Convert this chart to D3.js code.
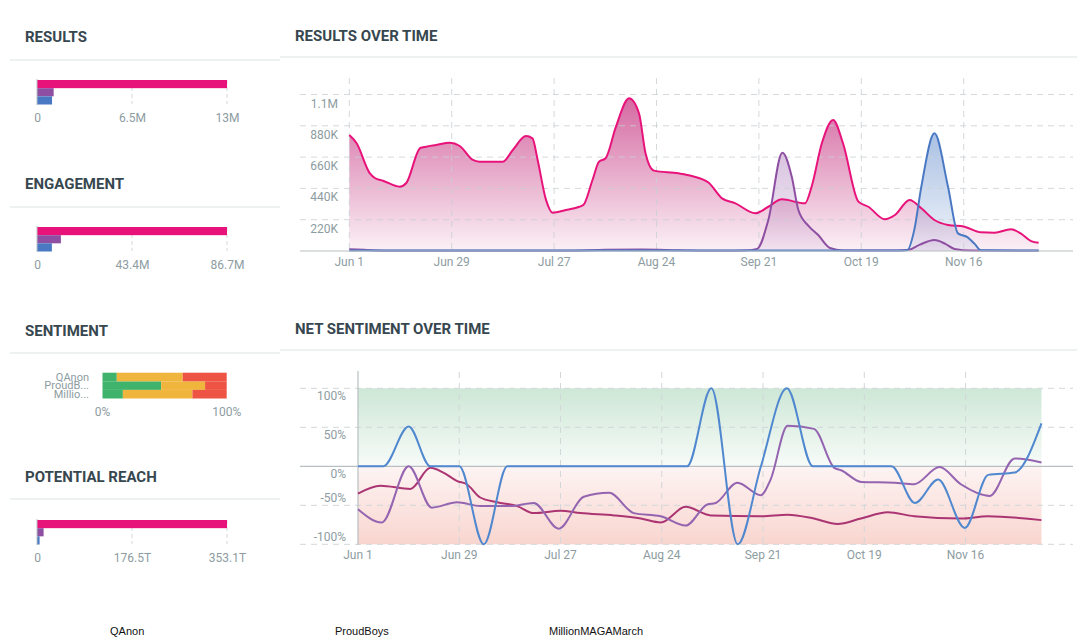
<!DOCTYPE html>
<html>
<head>
<meta charset="utf-8">
<script src="https://cdn.jsdelivr.net/npm/d3@7"></script>
<style>
  body { margin: 0; background: #fff; }
  svg { display: block; font-family: Roboto, "Noto Sans", sans-serif; }
  .title { font-weight: 700; font-size: 15px; fill: #37474f; }
  .tick-label { font-size: 12px; fill: #8d9ca1; }
  .row-label { font-size: 11px; fill: #8d9ca1; }
  .legend { font-family: "Liberation Sans", Arial, sans-serif; font-size: 11px; fill: #111; }
</style>
</head>
<body>
<svg id="chart" width="1077" height="641"></svg>
<script>
// groups
const groups = ["QAnon", "ProudBoys", "MillionMAGAMarch"];
const groupShort = ["QAnon", "ProudB...", "Millio..."];
const groupColors = ["#e8137a", "#8e4fa3", "#4a79c3"];
const areaColors = ["#cc4b8f", "#8e4fa3", "#4a79c3"];

// left panel totals
const resultsTotals = [13.0e6, 1.14e6, 1.03e6];
const resultsTicks = [0, 6.5e6, 13e6];
const resultsTickLabels = ["0", "6.5M", "13M"];

const engagementTotals = [86.7e6, 10.9e6, 6.8e6];
const engagementTicks = [0, 43.35e6, 86.7e6];
const engagementTickLabels = ["0", "43.4M", "86.7M"];

const reachTotals = [353.1e12, 12.3e12, 4.8e12];
const reachTicks = [0, 176.55e12, 353.1e12];
const reachTickLabels = ["0", "176.5T", "353.1T"];

// sentiment shares (%): positive, neutral, negative
const sentimentPositive = [11.5, 47.2, 16.4];
const sentimentNeutral = [53.1, 35.4, 56.0];
const sentimentNegative = [35.4, 17.4, 27.6];
const sentimentColors = ["#3fb36c", "#f0b53d", "#ee5443"];

// time axis (day offsets from Jun 1 2020)
const tickDates = ["2020-06-01", "2020-06-29", "2020-07-27", "2020-08-24", "2020-09-21", "2020-10-19", "2020-11-16"];
const lastDay = 189;

// results over time, [day, thousands]
const qanonResults = [[0,815],[2,757],[5.6,548],[7,513],[9.2,494],[13.8,452],[15.6,478],[19.4,724],[21,733],[23.8,745],
  [27.4,761],[30.2,738],[33.8,640],[35.6,628],[42,628],[44.7,710],[48.3,808],[50.1,792],[51.5,640],[53.8,359],
  [55.6,269],[59.2,288],[62.9,311],[64,323],[66.5,499],[68.3,628],[70.1,652],[72.9,874],[76.5,1073],[79.2,968],
  [81,687],[83.3,565],[90,546],[93.7,527],[98.3,480],[101.9,370],[105.6,335],[111,265],[114.6,311],[118.3,363],
  [124.6,335],[126.4,452],[129.2,757],[132.3,921],[135,757],[139.2,347],[141.9,311],[146.4,223],[149.2,253],[153.2,359],
  [156.4,300],[160,218],[163.7,183],[168.2,171],[172.7,131],[176.4,129],[180.9,153],[183.6,124],[186.4,70],[188.5,58]];
const proudResults = [[0,12],[4,8],[10,2],[20,1],[40,1],[60,2],[70,8],[80,10],[90,6],[100,2],[108,3],[111.5,15],
  [114.6,218],[118.4,691],[121,520],[122.8,288],[125.5,178],[128.2,112],[131.4,21],[135,4],[150,3],[153,8],
  [156,45],[160,77],[163,50],[165.5,14],[170,3],[188.5,2]];
const millionResults = [[0,3],[150,3],[152.6,6],[154.5,150],[156.4,452],[160,827],[163.7,452],[166.4,124],
  [169.1,96],[171,50],[172.7,5],[188.5,3]];

// net sentiment over time, [day, percent]
const qanonSentiment = [[0,-35],[6.2,-25],[14.5,-29],[20,-2],[23.6,-8],[27.4,-19],[30.1,-23],[33.8,-40],[38.4,-46],
  [44,-51],[48.6,-60],[56,-57],[61.5,-60],[70.8,-63],[78.2,-67],[83.7,-72],[90.6,-52],[97.6,-63],[111.4,-64],
  [118.8,-62],[126.1,-67],[132.6,-74],[139.1,-67],[146.5,-59],[153.8,-64],[166.7,-67],[174.1,-64],[189,-69]];
const proudSentiment = [[0,-55],[6.6,-72],[14,0],[20.4,-53],[27.4,-46],[33.8,-51],[42.2,-51],[48.6,-47],[55.5,-80],
  [62.4,-39],[69.4,-34],[76.3,-60],[83.7,-64],[90.6,-76],[96.6,-49],[98.9,-47],[104.9,-21],[111.4,-37],[114.1,-17],
  [118.8,52],[126.1,48],[131.7,-2],[133.6,-5],[139.1,-20],[148.3,-21],[153.8,-23],[160.8,-1],[166.7,-23],
  [174.7,-38],[181.6,10],[189,5]];
const millionSentiment = [[0,0],[7,0],[14,51],[20,0],[28,0],[34.8,-100],[41.3,0],[91,0],[97.7,100],[105,-100],
  [111.4,0],[118.6,100],[125.8,0],[147.5,0],[154,-47],[160.4,-17],[167.8,-79],[174.3,-11],[181.6,-8],[189,55]];

const sentimentLineColors = ["#ab3573", "#9464b0", "#5088cf"];

const svg = d3.select("#chart");
const start = d3.timeParse("%Y-%m-%d")(tickDates[0]);
const toDate = d => d3.timeHour.offset(start, Math.round(d * 24));
const ticks = tickDates.map(d3.timeParse("%Y-%m-%d"));
const fmtDate = d3.timeFormat("%b %-d");

// --- section titles and separators
function section(x, y, w, label, gap) {
  svg.append("text").attr("class", "title").attr("x", x + 15).attr("y", y).text(label);
  svg.append("line").attr("x1", x).attr("x2", x + w)
    .attr("y1", y + gap).attr("y2", y + gap)
    .attr("stroke", "#e7ecec").attr("stroke-width", 1.5);
}
section(10, 42, 270, "RESULTS", 18);
section(10, 189, 270, "ENGAGEMENT", 18);
section(10, 336, 270, "SENTIMENT", 17);
section(10, 482, 270, "POTENTIAL REACH", 17);
section(280, 41, 797, "RESULTS OVER TIME", 16);
section(280, 334, 797, "NET SENTIMENT OVER TIME", 16);

// --- small horizontal bar charts
function totalsChart(top, values, tickVals, tickLabels) {
  const x = d3.scaleLinear().domain([0, tickVals[2]]).range([37, 227]);
  const y = d3.scaleBand().domain(groups).range([top, top + 24.5]);
  const g = svg.append("g");
  g.selectAll(".grid").data(tickVals.slice(1)).enter().append("line")
    .attr("x1", d => x(d)).attr("x2", d => x(d))
    .attr("y1", top).attr("y2", top + 24)
    .attr("stroke", "#d3d8da").attr("stroke-dasharray", "4,3");
  g.selectAll("rect").data(values).enter().append("rect")
    .attr("x", x(0)).attr("y", (d, i) => y(groups[i]))
    .attr("width", d => Math.max(1, x(d) - x(0)))
    .attr("height", y.bandwidth())
    .attr("fill", (d, i) => groupColors[i]);
  g.append("line").attr("x1", x(0)).attr("x2", x(0))
    .attr("y1", top - 1).attr("y2", top + 25)
    .attr("stroke", "#b9c2c5");
  const axis = g.append("g").attr("transform", `translate(0,${top + 28})`)
    .call(d3.axisBottom(x).tickValues(tickVals).tickFormat((d, i) => tickLabels[i]).tickSize(0));
  axis.select(".domain").remove();
  axis.selectAll("text").attr("class", "tick-label").attr("dy", "0.9em")
    .style("font-family", "Roboto, sans-serif").style("font-size", "12px");
}
totalsChart(80, resultsTotals, resultsTicks, resultsTickLabels);
totalsChart(227, engagementTotals, engagementTicks, engagementTickLabels);
totalsChart(520, reachTotals, reachTicks, reachTickLabels);

// --- sentiment stacked bars
(function () {
  const x = d3.scaleLinear().domain([0, 100]).range([102.5, 226.7]);
  const y = d3.scaleBand().domain(groups).range([372.7, 398.5]);
  const rows = groups.map((g, i) => ({ name: g, pos: sentimentPositive[i], neu: sentimentNeutral[i], neg: sentimentNegative[i] }));
  const stack = d3.stack().keys(["pos", "neu", "neg"])(rows);
  const g = svg.append("g");
  g.selectAll("g.layer").data(stack).enter().append("g")
    .attr("fill", (d, i) => sentimentColors[i])
    .selectAll("rect").data(d => d).enter().append("rect")
    .attr("x", d => x(d[0])).attr("width", d => x(d[1]) - x(d[0]))
    .attr("y", d => y(d.data.name)).attr("height", y.bandwidth());
  // the row labels are taller than the rows, so they crowd each other (as in the dashboard)
  g.selectAll("text.row").data(groupShort).enter().append("text")
    .attr("class", "row-label").attr("text-anchor", "end")
    .attr("x", 89).attr("y", (d, i) => y(groups[i]) + y.bandwidth() / 2 + 3.5)
    .text(d => d);
  g.selectAll("text.pct").data([0, 100]).enter().append("text")
    .attr("class", "tick-label").attr("text-anchor", "middle")
    .attr("x", d => x(d)).attr("y", 415.5).text(d => d + "%");
})();

// --- results over time
(function () {
  const x = d3.scaleTime().domain([start, toDate(lastDay)]).range([349.3, 1040.5]);
  const y = d3.scaleLinear().domain([0, 1.1e6]).range([251, 94.5]);
  const defs = svg.append("defs");
  const areas = svg.append("g");
  const grid = svg.append("g");
  const lines = svg.append("g");
  const yTicks = [220e3, 440e3, 660e3, 880e3, 1.1e6];
  const fmt = v => v >= 1e6 ? (v / 1e6) + "M" : (v / 1e3) + "K";

  grid.selectAll(".hgrid").data(yTicks).enter().append("line")
    .attr("x1", 300).attr("x2", 1073).attr("y1", d => y(d)).attr("y2", d => y(d))
    .attr("stroke", "#c9cfd2").attr("stroke-opacity", 0.8).attr("stroke-dasharray", "6,5");
  grid.selectAll(".vgrid").data(ticks).enter().append("line")
    .attr("x1", d => x(d)).attr("x2", d => x(d)).attr("y1", 78).attr("y2", 251)
    .attr("stroke", "#c9cfd2").attr("stroke-opacity", 0.8).attr("stroke-dasharray", "6,5");
  grid.selectAll(".ylab").data(yTicks).enter().append("text")
    .attr("class", "tick-label").attr("text-anchor", "end")
    .attr("x", 338).attr("y", d => y(d) + 13).text(fmt);
  grid.selectAll(".xlab").data(ticks).enter().append("text")
    .attr("class", "tick-label").attr("text-anchor", "middle")
    .attr("x", d => x(d)).attr("y", 266).text(fmtDate);

  const series = [qanonResults, proudResults, millionResults];
  const fillTop = [0.85, 0.5, 0.6];
  series.forEach((s, i) => {
    const grad = defs.append("linearGradient").attr("id", "rg" + i)
      .attr("gradientUnits", "userSpaceOnUse").attr("x1", 0).attr("x2", 0).attr("y1", 94).attr("y2", 251);
    grad.append("stop").attr("offset", 0).attr("stop-color", areaColors[i]).attr("stop-opacity", fillTop[i]);
    grad.append("stop").attr("offset", 1).attr("stop-color", areaColors[i]).attr("stop-opacity", 0.08);
    const area = d3.area().curve(d3.curveMonotoneX)
      .x(d => x(toDate(d[0]))).y0(y(0)).y1(d => y(d[1] * 1e3));
    const line = d3.line().curve(d3.curveMonotoneX)
      .x(d => x(toDate(d[0]))).y(d => y(d[1] * 1e3));
    areas.append("path").datum(s).attr("d", area).attr("fill", `url(#rg${i})`);
    lines.append("path").datum(s).attr("d", line).attr("fill", "none")
      .attr("stroke", groupColors[i]).attr("stroke-width", 2);
  });
  lines.append("line").attr("x1", 300).attr("x2", 1073).attr("y1", y(0)).attr("y2", y(0))
    .attr("stroke", "#b7bfc2").attr("stroke-width", 1.2);
})();

// --- net sentiment over time
(function () {
  const x = d3.scaleTime().domain([start, toDate(lastDay)]).range([358, 1041.5]);
  const y = d3.scaleLinear().domain([-100, 100]).range([544.3, 388.3]);
  const g = svg.append("g");
  const defs = svg.append("defs");
  const gp = defs.append("linearGradient").attr("id", "posBand").attr("x1", 0).attr("x2", 0).attr("y1", 0).attr("y2", 1);
  gp.append("stop").attr("offset", 0).attr("stop-color", "#cde7d6");
  gp.append("stop").attr("offset", 1).attr("stop-color", "#f7fbf8");
  const gn = defs.append("linearGradient").attr("id", "negBand").attr("x1", 0).attr("x2", 0).attr("y1", 0).attr("y2", 1);
  gn.append("stop").attr("offset", 0).attr("stop-color", "#fdf4f3");
  gn.append("stop").attr("offset", 1).attr("stop-color", "#f9d5cf");

  g.append("rect").attr("x", x(start)).attr("width", x(toDate(lastDay)) - x(start))
    .attr("y", y(100)).attr("height", y(0) - y(100)).attr("fill", "url(#posBand)");
  g.append("rect").attr("x", x(start)).attr("width", x(toDate(lastDay)) - x(start))
    .attr("y", y(0)).attr("height", y(-100) - y(0)).attr("fill", "url(#negBand)");

  const yTicks = [100, 50, -50, -100];
  g.selectAll(".hgrid").data(yTicks).enter().append("line")
    .attr("x1", 300).attr("x2", 1073).attr("y1", d => y(d)).attr("y2", d => y(d))
    .attr("stroke", "#d2d7d9").attr("stroke-dasharray", "6,5");
  g.selectAll(".vgrid").data(ticks.slice(1)).enter().append("line")
    .attr("x1", d => x(d)).attr("x2", d => x(d)).attr("y1", 372).attr("y2", 548)
    .attr("stroke", "#d2d7d9").attr("stroke-dasharray", "6,5");
  g.append("line").attr("x1", x(start)).attr("x2", x(start)).attr("y1", 371).attr("y2", 545)
    .attr("stroke", "#b7bfc2").attr("stroke-width", 1.2);
  g.append("line").attr("x1", 300).attr("x2", 1073).attr("y1", y(0)).attr("y2", y(0))
    .attr("stroke", "#b7bfc2").attr("stroke-width", 1.2);

  g.selectAll(".ylab").data([100, 50, 0, -50, -100]).enter().append("text")
    .attr("class", "tick-label").attr("text-anchor", "end")
    .attr("x", 346).attr("y", d => y(d) + (d >= 0 ? 12 : -3)).text(d => d + "%");
  g.selectAll(".xlab").data(ticks).enter().append("text")
    .attr("class", "tick-label").attr("text-anchor", "middle")
    .attr("x", d => x(d)).attr("y", 559).text(fmtDate);

  const line = d3.line().curve(d3.curveMonotoneX)
    .x(d => x(toDate(d[0]))).y(d => y(d[1]));
  [qanonSentiment, proudSentiment, millionSentiment].forEach((s, i) => {
    g.append("path").datum(s).attr("d", line).attr("fill", "none")
      .attr("stroke", sentimentLineColors[i]).attr("stroke-width", 2);
  });
})();

// --- legend
svg.selectAll(".legend").data(groups).enter().append("text")
  .attr("class", "legend")
  .attr("x", (d, i) => [110, 335, 549][i]).attr("y", 635)
  .text(d => d);
</script>
</body>
</html>
